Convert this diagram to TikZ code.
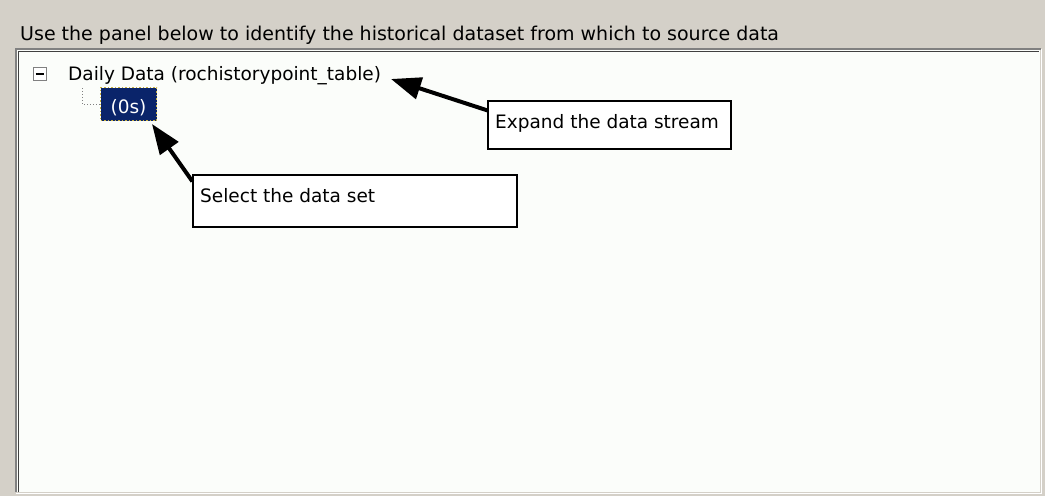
\documentclass[tikz,border=0pt]{standalone}
\usepackage{fontspec}
\setmainfont{DejaVu Sans}
\usetikzlibrary{arrows.meta}
\definecolor{winbg}{HTML}{D4D0C8}
\definecolor{panelbg}{HTML}{FBFDFA}
\definecolor{darkedge}{HTML}{404040}
\definecolor{midedge}{HTML}{808080}
\definecolor{selblue}{HTML}{0A246A}
\definecolor{focusyel}{HTML}{C8B040}
\tikzset{
  uitext/.style={font=\fontsize{18.5}{20}\selectfont, inner sep=0pt, text=black},
  callout/.style={draw=black, line width=1.2pt, fill=white, inner sep=0pt},
  pointer/.style={draw=black, line width=4pt, -{Triangle[length=30pt,width=22pt]}},
  treeline/.style={draw=midedge, line width=1pt, dotted},
}
\begin{document}
\begin{tikzpicture}[x=1pt,y=-1pt]
\useasboundingbox (0,0) rectangle (1045,496);
\fill[winbg] (0,0) rectangle (1045,496);
% panel
\fill[panelbg] (17,50) rectangle (1040,492);
\draw[midedge, line width=1.5pt] (16,492) -- (16,49) -- (1041,49);
\draw[darkedge, line width=1.5pt] (18.5,492) -- (18.5,51.5) -- (1039,51.5);
\draw[white, line width=1.2pt] (16,493.5) -- (1041.5,493.5) -- (1041.5,49);
% title
\node[uitext, font=\fontsize{19}{21}\selectfont, anchor=base west] (title) at (20,40) {Use the panel below to identify the historical dataset from which to source data};
% tree
\node[draw=midedge, fill=white, line width=1pt, minimum width=13pt, minimum height=13pt, inner sep=0pt] (minus) at (39.5,74) {};
\draw[black, line width=1.2pt] ([xshift=3pt]minus.west) -- ([xshift=-3pt]minus.east);
\node[uitext, anchor=base west] (daily) at (68,80) {Daily Data (rochistorypoint\_table)};
\node[fill=selblue, draw=focusyel, dotted, line width=1.5pt, minimum width=56pt, minimum height=33pt, inner sep=0pt] (zeros) at (128.5,104) {};
\node[uitext, text=white, anchor=base] (zerostext) at (128.5,113) {(0s)};
\coordinate (branch) at (82,88);
\draw[treeline] (branch) |- (zeros.west);
% callouts
\node[callout, minimum width=243pt, minimum height=48pt] (expbox) at (609.5,125) {};
\node[uitext, anchor=base west] (exptext) at (495,128) {Expand the data stream};
\node[callout, minimum width=324pt, minimum height=52pt] (selbox) at (355,201) {};
\node[uitext, anchor=base west] (seltext) at (200,202) {Select the data set};
\coordinate (tip1) at (391,79);
\coordinate (tip2) at (152,124);
\draw[pointer] ([yshift=-10pt]expbox.north west) -- (tip1);
\draw[pointer] ([yshift=-7pt]selbox.north west) -- (tip2);
\end{tikzpicture}
\end{document}
